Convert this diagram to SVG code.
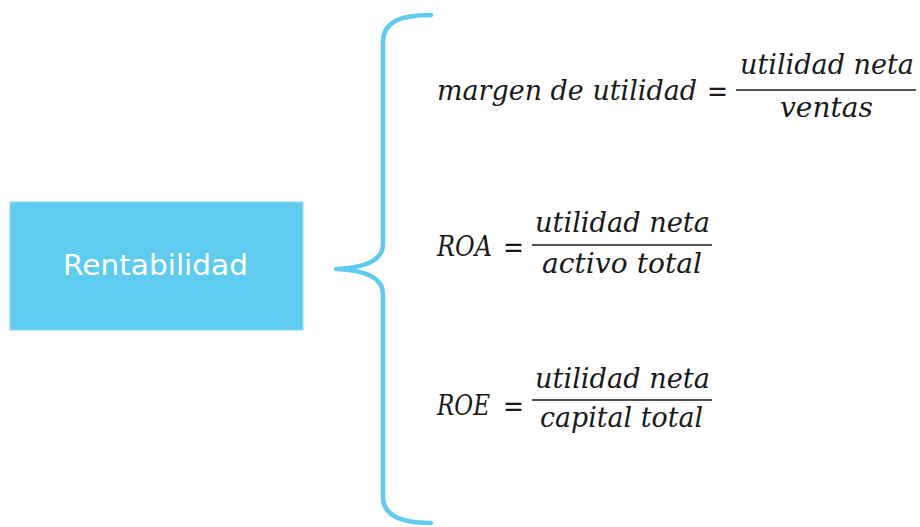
<svg xmlns="http://www.w3.org/2000/svg" width="920" height="527" viewBox="0 0 920 527">
<style>
.box{fill:#5ECBEF;stroke:#8FDBF5;stroke-width:1}
.lbl{font-family:"DejaVu Sans","Liberation Sans",sans-serif;font-size:29px;fill:#FFFFFF}
.m{font-family:"DejaVu Serif","Liberation Serif",serif;font-style:italic;font-size:27px;fill:#1A1A1A}
.eq{font-family:"DejaVu Serif","Liberation Serif",serif;font-size:30px;fill:#1A1A1A}
.bar{stroke:#1A1A1A;stroke-width:1.6}
.brace{fill:none;stroke:#5ECBEF;stroke-width:4.5;stroke-linecap:round;stroke-linejoin:round}
</style>
<rect width="920" height="527" fill="#FFFFFF"/>
<g id="rentabilidad">
<rect class="box" x="10" y="202" width="293" height="128"/>
<text class="lbl" x="63" y="275" textLength="185" lengthAdjust="spacingAndGlyphs">Rentabilidad</text>
</g>
<g id="connectors">
<path class="brace" d="M431,15 C400,15 383,22 383,42 L383,244 C383,262 360,268 336,269 C360,270 383,276 383,294 L383,497 C383,515 400,523 431,523"/>
</g>
<g id="margen">
<text class="m" x="437" y="100" textLength="260" lengthAdjust="spacingAndGlyphs">margen de utilidad</text>
<text class="eq" x="707" y="101" textLength="21" lengthAdjust="spacingAndGlyphs">=</text>
<text class="m" x="740" y="74" textLength="174" lengthAdjust="spacingAndGlyphs">utilidad neta</text>
<line class="bar" x1="736" y1="90" x2="916" y2="90"/>
<text class="m" x="780" y="117" textLength="93" lengthAdjust="spacingAndGlyphs">ventas</text>
</g>
<g id="roa">
<text class="m" x="437" y="256" textLength="55" lengthAdjust="spacingAndGlyphs">ROA</text>
<text class="eq" x="503" y="257" textLength="21" lengthAdjust="spacingAndGlyphs">=</text>
<text class="m" x="535" y="232" textLength="175" lengthAdjust="spacingAndGlyphs">utilidad neta</text>
<line class="bar" x1="532" y1="245" x2="712" y2="245"/>
<text class="m" x="542" y="273" textLength="160" lengthAdjust="spacingAndGlyphs">activo total</text>
</g>
<g id="roe">
<text class="m" x="437" y="415" textLength="53" lengthAdjust="spacingAndGlyphs">ROE</text>
<text class="eq" x="503" y="416" textLength="21" lengthAdjust="spacingAndGlyphs">=</text>
<text class="m" x="535" y="388" textLength="175" lengthAdjust="spacingAndGlyphs">utilidad neta</text>
<line class="bar" x1="532" y1="400" x2="712" y2="400"/>
<text class="m" x="540" y="427" textLength="163" lengthAdjust="spacingAndGlyphs">capital total</text>
</g>
</svg>
